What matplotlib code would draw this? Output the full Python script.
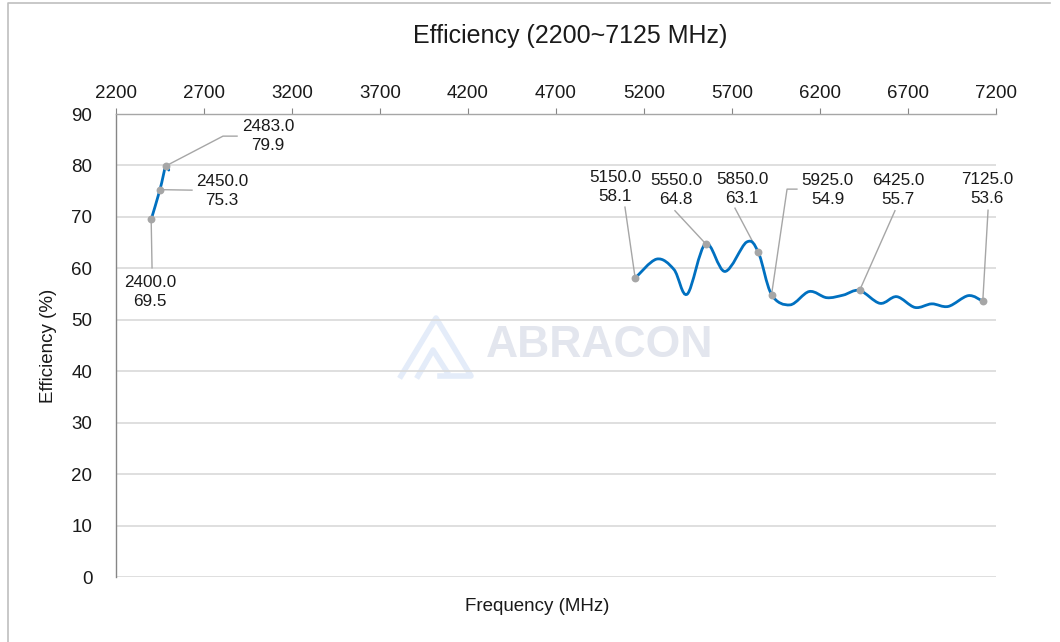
import numpy as np
import matplotlib.pyplot as plt
from matplotlib.path import Path
from matplotlib.patches import PathPatch
from matplotlib.lines import Line2D

plt.rcParams['font.family'] = ['Liberation Sans', 'DejaVu Sans']

# 2.4 GHz band readings
freq_24 = [2400, 2450, 2483, 2500]
eff_24 = [69.5, 75.3, 79.9, 79.1]

# 5-7 GHz band readings
freq_5g = [5150, 5272, 5370, 5446, 5550, 5660, 5783, 5850, 5925, 6030,
           6139, 6238, 6332, 6425, 6541, 6636, 6740, 6835, 6929, 7043, 7125]
eff_5g = [58.1, 61.8, 59.8, 55.0, 64.8, 59.4, 65.1, 63.1, 54.9, 52.9,
          55.5, 54.3, 54.8, 55.7, 53.2, 54.5, 52.4, 53.1, 52.6, 54.7, 53.6]

# labelled points
mark_freq = [2400, 2450, 2483, 5150, 5550, 5850, 5925, 6425, 7125]
mark_eff = [69.5, 75.3, 79.9, 58.1, 64.8, 63.1, 54.9, 55.7, 53.6]

x_ticks = list(range(2200, 7201, 500))
y_ticks = list(range(0, 91, 10))

blue = '#0070c0'
gray = '#a6a6a6'


def smooth_path(xs, ys):
    # excel-like smoothed line (catmull-rom as cubic bezier)
    p = np.column_stack([xs, ys]).astype(float)
    n = len(p)
    verts = [p[0]]
    codes = [Path.MOVETO]
    for i in range(n - 1):
        p0 = p[i - 1] if i > 0 else p[i]
        p3 = p[i + 2] if i + 2 < n else p[i + 1]
        c1 = p[i] + (p[i + 1] - p0) / 6
        c2 = p[i + 1] - (p3 - p[i]) / 6
        verts += [c1, c2, p[i + 1]]
        codes += [Path.CURVE4] * 3
    return Path(verts, codes)


fig = plt.figure(figsize=(10.6, 6.42), dpi=100)
ax = fig.add_axes([0.1094, 0.1012, 0.8302, 0.7212])
ax.patch.set_alpha(0)

for fx, fy in [(freq_24, eff_24), (freq_5g, eff_5g)]:
    ax.add_patch(PathPatch(smooth_path(fx, fy), fill=False, edgecolor=blue,
                           lw=2.0, capstyle='round', zorder=3))

ax.scatter(mark_freq, mark_eff, s=32, color=gray, zorder=4, linewidths=0)

# label positions (text centre, leader path)
labels = [
    ((2393, 55.4), [(2400, 69.5), (2405, 60.1)]),
    ((2802, 75.0), [(2450, 75.3), (2632, 75.2)]),
    ((3064, 85.7), [(2483, 79.9), (2808, 85.7), (2888, 85.7)]),
    ((5035, 75.8), [(5150, 58.1), (5092, 71.9)]),
    ((5382, 75.2), [(5550, 64.8), (5376, 71.2)]),
    ((5757, 75.4), [(5850, 63.1), (5717, 71.7)]),
    ((6245, 75.2), [(5925, 54.9), (6013, 75.4), (6069, 75.4)]),
    ((6643, 75.2), [(6425, 55.7), (6626, 71.2)]),
    ((7149, 75.4), [(7125, 53.6), (7155, 71.3)]),
]
for (f, e), ((tx, ty), leader) in zip(zip(mark_freq, mark_eff), labels):
    lx, ly = zip(*leader)
    ax.plot(lx, ly, color=gray, lw=1.0, zorder=2)
    ax.text(tx, ty, f'{f:.1f}\n{e:.1f}', ha='center', va='center',
            fontsize=12.3, color='#1a1a1a', linespacing=1.3, zorder=5)

ax.set_xlim(2200, 7200)
ax.set_ylim(0, 90)
ax.set_xticks(x_ticks)
ax.set_yticks(y_ticks)
ax.xaxis.tick_top()
ax.tick_params(axis='x', length=4, width=0.8, color='#868686', pad=4.5,
               labelsize=13.5, labelcolor='#1a1a1a')
ax.tick_params(axis='y', length=0, pad=17, labelsize=13.5, labelcolor='#1a1a1a')
ax.grid(axis='y', color='#d9d9d9', lw=1.2)
ax.set_axisbelow(True)
for s in ['right', 'bottom']:
    ax.spines[s].set_visible(False)
ax.spines['left'].set_color('#868686')
ax.spines['top'].set_color('#a6a6a6')
ax.spines['left'].set_linewidth(1.0)
ax.spines['top'].set_linewidth(1.0)

ax.set_ylabel('Efficiency (%)', fontsize=13.5, color='#1a1a1a', labelpad=10)
fig.text(0.507, 0.055, 'Frequency (MHz)', ha='center', va='center',
         fontsize=13.5, color='#1a1a1a')
fig.text(0.538, 0.944, 'Efficiency (2200~7125 MHz)', ha='center', va='center',
         fontsize=18, color='#1a1a1a')

# watermark
fig.text(0.566, 0.4626, 'ABRACON', ha='center', va='center', fontsize=32,
         weight='bold', color='#e3e6ee', zorder=-1)
W, H = 1060, 642
logo_col = '#e4ecf9'
for pts in [[(401, 376), (436, 318), (471, 376), (440, 376)],
            [(418, 376), (433, 350), (447, 372)]]:
    xs = [x / W for x, y in pts]
    ys = [1 - y / H for x, y in pts]
    fig.add_artist(Line2D(xs, ys, color=logo_col, lw=4, zorder=-1,
                          transform=fig.transFigure))

# chart border
fig.add_artist(Line2D([8 / W, 8 / W, 1050 / W], [0, 1 - 3 / H, 1 - 3 / H],
                      color='#bfbfbf', lw=1.2, transform=fig.transFigure))

fig.savefig('out.png', dpi=100)
